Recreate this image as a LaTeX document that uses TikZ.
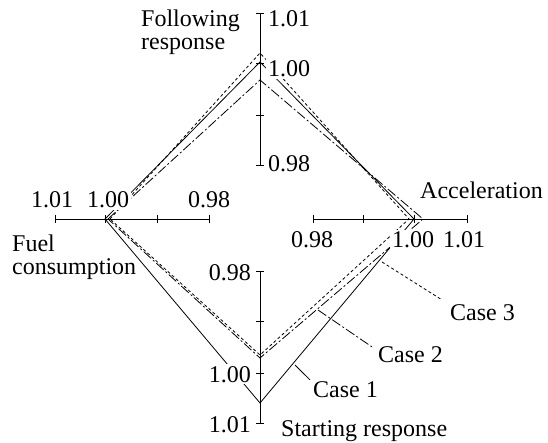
\documentclass[tikz,border=0pt]{standalone}
\usepackage{fontspec}
\setmainfont{Liberation Serif}
\begin{document}
\begin{tikzpicture}[x=1pt,y=-1pt,
  axisline/.style={line width=0.8pt},
  caseone/.style={line width=0.8pt},
  casetwo/.style={line width=0.8pt,dash pattern=on 10pt off 2.5pt on 2pt off 2.5pt},
  casethree/.style={line width=0.8pt,dash pattern=on 3pt off 2.5pt},
  txt/.style={font=\fontsize{24}{23}\selectfont, inner sep=2pt},
  num/.style={txt, fill=white},
]
\useasboundingbox (0,0) rectangle (548,443);

% axes
\coordinate (tA) at (260,13);  \coordinate (tB) at (260,165);
\coordinate (bA) at (260,271); \coordinate (bB) at (260,423);
\coordinate (lA) at (55,219);  \coordinate (lB) at (209,219);
\coordinate (rA) at (313,219); \coordinate (rB) at (467,219);
\draw[axisline] (tA) -- (tB);
\draw[axisline] (bA) -- (bB);
\draw[axisline] (lA) -- (lB);
\draw[axisline] (rA) -- (rB);
\foreach \y in {13,63,115,165,271,321,373,423} \draw[axisline] (256,\y) -- (264,\y);
\foreach \x in {55,105,157,209,313,363,414,467} \draw[axisline] (\x,215) -- (\x,223);

% case vertices
\coordinate (T1) at (260,62);  \coordinate (R1) at (414,219);
\coordinate (B1) at (260,403); \coordinate (L1) at (105,219);
\coordinate (T2) at (260,80);  \coordinate (R2) at (423,219);
\coordinate (B2) at (260,358); \coordinate (L2) at (108,219);
\coordinate (T3) at (260,53);  \coordinate (R3) at (409,219);
\coordinate (B3) at (260,355); \coordinate (L3) at (110,219);

\draw[caseone]   (L1) -- (T1) -- (R1) -- (B1) -- cycle;
\draw[casetwo]   (L2) -- (T2) -- (R2) -- (B2) -- cycle;
\draw[casethree] (L3) -- (T3) -- (R3) -- (B3) -- cycle;

% axis numbers
\node[num, anchor=base west] (t101) at (266,27) {1.01};
\node[num, anchor=base west] (t100) at (266,77) {1.00};
\node[num, anchor=base west] (t098) at (266,172) {0.98};
\node[num, anchor=base] (l101) at (52,208) {1.01};
\node[num, anchor=base] (l100) at (108,208) {1.00};
\node[num, anchor=base] (l098) at (209,208) {0.98};
\node[num, anchor=base] (r098) at (312,248) {0.98};
\node[num, anchor=base] (r100) at (413,248) {1.00};
\node[num, anchor=base] (r101) at (464,248) {1.01};
\node[num, anchor=base east] (b098) at (253,280) {0.98};
\node[num, anchor=base east] (b100) at (253,382) {1.00};
\node[num, anchor=base east] (b101) at (253,432) {1.01};

% axis titles
\node[txt, anchor=north west, align=left] (follow) at (139,8) {Following\\response};
\node[txt, anchor=north west, align=left] (fuel) at (10,233) {Fuel\\consumption};
\node[txt, anchor=base west] (accel) at (418,199) {Acceleration};
\node[txt, anchor=base west] (start) at (279,436) {Starting response};

% case labels and leaders
\node[txt, anchor=base west] (c1) at (311,397) {Case 1};
\node[txt, anchor=base west] (c2) at (376,362) {Case 2};
\node[txt, anchor=base west] (c3) at (448,320) {Case 3};
\coordinate (k1) at (295,365);
\coordinate (k2) at (318,310);
\coordinate (k3) at (382,262);
\draw[caseone]   (k1) -- ([shift={(-1,1)}]c1.north west);
\draw[casetwo]   (k2) -- ([shift={(-4,3)}]c2.north west);
\draw[casethree] (k3) -- ([shift={(-6,-2)}]c3.north west);
\end{tikzpicture}
\end{document}
